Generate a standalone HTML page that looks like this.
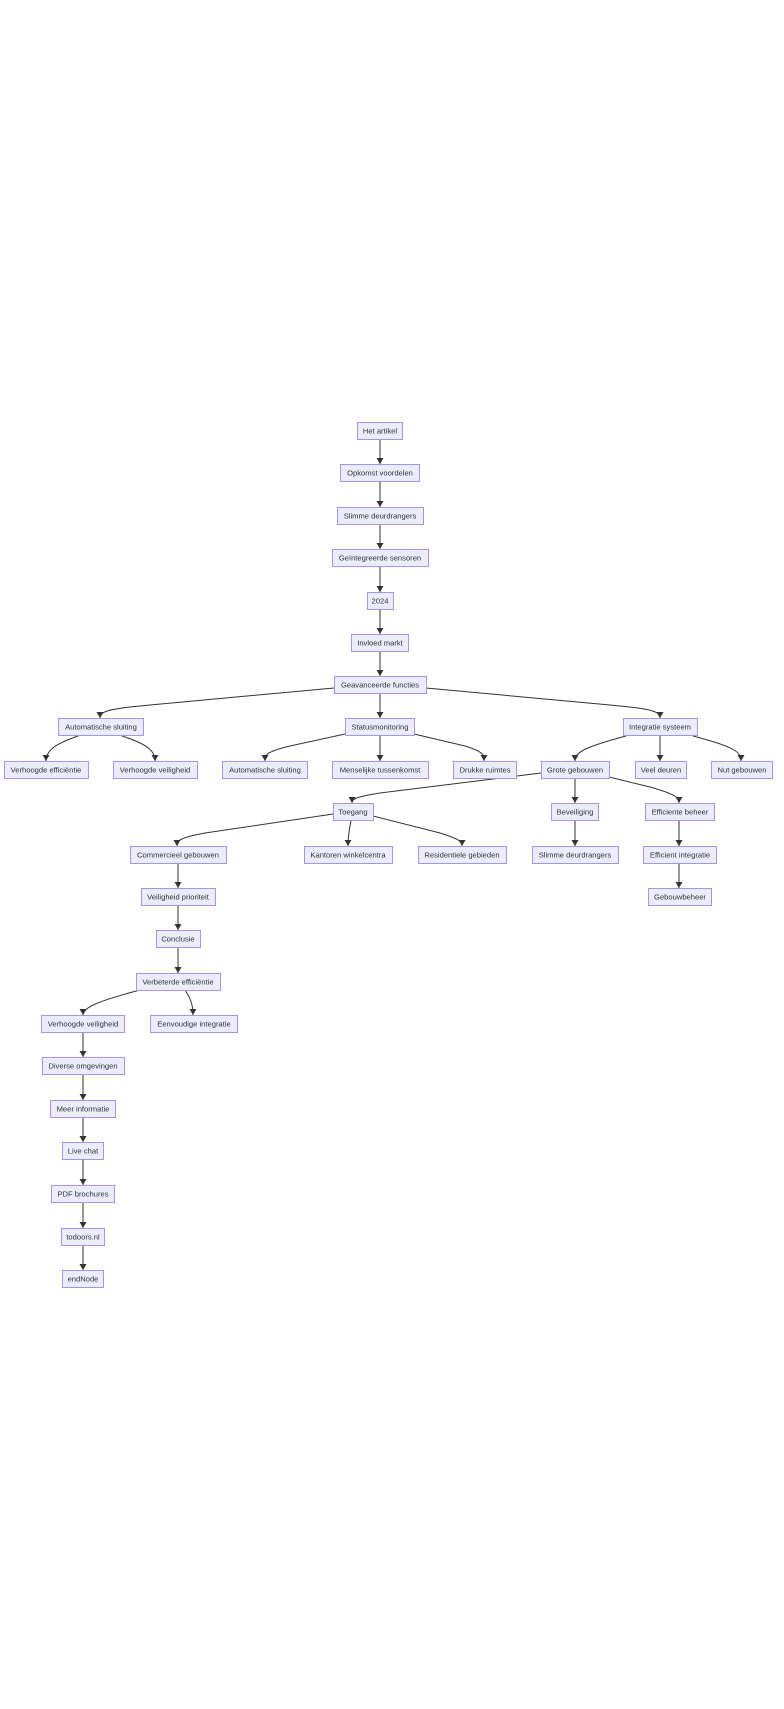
<!DOCTYPE html>
<html><head><meta charset="utf-8"><style>
html,body{margin:0;padding:0;background:#fff;}
svg{display:block;}
text{font-family:"Liberation Sans",Arial,sans-serif;font-size:7.6px;fill:#333;text-anchor:middle;dominant-baseline:central;}
rect{fill:#ECECFF;stroke:#A893E6;stroke-width:1;}
path.e{fill:none;stroke:#333;stroke-width:1;marker-end:url(#ah);}
</style></head><body>
<svg width="784" height="1709" viewBox="0 0 784 1709" xmlns="http://www.w3.org/2000/svg">
<defs><marker id="ah" markerUnits="userSpaceOnUse" markerWidth="7" markerHeight="7" refX="6" refY="3.5" orient="auto"><path d="M0,0 L6,3.5 L0,7 Z" fill="#333"/></marker></defs>
<g>
<path class="e" d="M380,439 L380,464"/>
<path class="e" d="M380,481 L380,507"/>
<path class="e" d="M380,523 L380,549"/>
<path class="e" d="M380,566 L380,592"/>
<path class="e" d="M380,608 L380,634"/>
<path class="e" d="M380,651 L380,676"/>
<path class="e" d="M334,688 L150,705 C105,709 100,712 100,718"/>
<path class="e" d="M380,693 L380,718"/>
<path class="e" d="M426,688 L610,705 C655,709 660,712 660,718"/>
<path class="e" d="M78,736 C52,745 46,752 46,761"/>
<path class="e" d="M122,736 C150,745 155,752 155,761"/>
<path class="e" d="M345,734 L290,746 C265,752 265,755 265,761"/>
<path class="e" d="M380,736 L380,761"/>
<path class="e" d="M414,734 L465,746 C484,752 484,755 484,761"/>
<path class="e" d="M626,736 C585,747 575,752 575,761"/>
<path class="e" d="M660,736 L660,761"/>
<path class="e" d="M693,736 C735,747 741,752 741,761"/>
<path class="e" d="M541,773 L380,793 C355,797 352,799 352,803"/>
<path class="e" d="M575,778 L575,803"/>
<path class="e" d="M609,777 L650,787 C678,795 679,798 679,803"/>
<path class="e" d="M333,814 L205,833 C178,838 177,841 177,846"/>
<path class="e" d="M351,821 C349,830 348,838 348,846"/>
<path class="e" d="M373,816 L440,833 C462,840 462,842 462,846"/>
<path class="e" d="M575,821 L575,846"/>
<path class="e" d="M679,821 L679,846"/>
<path class="e" d="M679,863 L679,888"/>
<path class="e" d="M178,863 L178,888"/>
<path class="e" d="M178,905 L178,930"/>
<path class="e" d="M178,947 L178,973"/>
<path class="e" d="M140,990 C95,1002 83,1008 83,1015"/>
<path class="e" d="M185,990 C192,1000 193,1008 193,1015"/>
<path class="e" d="M83,1032 L83,1057"/>
<path class="e" d="M83,1075 L83,1100"/>
<path class="e" d="M83,1117 L83,1142"/>
<path class="e" d="M83,1159 L83,1185"/>
<path class="e" d="M83,1202 L83,1228"/>
<path class="e" d="M83,1244 L83,1270"/>
</g>
<g>
<rect x="357.5" y="422.5" width="45" height="17"/><text x="380" y="431">Het artikel</text>
<rect x="340.5" y="464.5" width="79" height="17"/><text x="380" y="473">Opkomst voordelen</text>
<rect x="337.5" y="507.5" width="86" height="17"/><text x="380" y="516">Slimme deurdrangers</text>
<rect x="332.5" y="549.5" width="96" height="17"/><text x="380" y="558">Geïntegreerde sensoren</text>
<rect x="367.5" y="592.5" width="26" height="17"/><text x="380" y="601">2024</text>
<rect x="351.5" y="634.5" width="57" height="17"/><text x="380" y="643">Invloed markt</text>
<rect x="334.5" y="676.5" width="92" height="17"/><text x="380" y="685">Geavanceerde functies</text>
<rect x="58.5" y="718.5" width="85" height="17"/><text x="101" y="727">Automatische sluiting</text>
<rect x="345.5" y="718.5" width="69" height="17"/><text x="380" y="727">Statusmonitoring</text>
<rect x="623.5" y="718.5" width="74" height="17"/><text x="660" y="727">Integratie systeem</text>
<rect x="4.5" y="761.5" width="84" height="17"/><text x="46" y="770">Verhoogde efficiëntie</text>
<rect x="113.5" y="761.5" width="84" height="17"/><text x="155" y="770">Verhoogde veiligheid</text>
<rect x="222.5" y="761.5" width="85" height="17"/><text x="265" y="770">Automatische sluiting</text>
<rect x="332.5" y="761.5" width="96" height="17"/><text x="380" y="770">Menselijke tussenkomst</text>
<rect x="453.5" y="761.5" width="63" height="17"/><text x="485" y="770">Drukke ruimtes</text>
<rect x="541.5" y="761.5" width="68" height="17"/><text x="575" y="770">Grote gebouwen</text>
<rect x="635.5" y="761.5" width="51" height="17"/><text x="661" y="770">Veel deuren</text>
<rect x="711.5" y="761.5" width="61" height="17"/><text x="742" y="770">Nut gebouwen</text>
<rect x="333.5" y="803.5" width="40" height="17"/><text x="353" y="812">Toegang</text>
<rect x="551.5" y="803.5" width="47" height="17"/><text x="575" y="812">Beveiliging</text>
<rect x="645.5" y="803.5" width="69" height="17"/><text x="680" y="812">Efficiente beheer</text>
<rect x="130.5" y="846.5" width="96" height="17"/><text x="178" y="855">Commercieel gebouwen</text>
<rect x="304.5" y="846.5" width="88" height="17"/><text x="348" y="855">Kantoren winkelcentra</text>
<rect x="418.5" y="846.5" width="88" height="17"/><text x="462" y="855">Residentiele gebieden</text>
<rect x="532.5" y="846.5" width="86" height="17"/><text x="575" y="855">Slimme deurdrangers</text>
<rect x="643.5" y="846.5" width="73" height="17"/><text x="680" y="855">Efficient integratie</text>
<rect x="141.5" y="888.5" width="74" height="17"/><text x="178" y="897">Veiligheid prioriteit</text>
<rect x="648.5" y="888.5" width="63" height="17"/><text x="680" y="897">Gebouwbeheer</text>
<rect x="156.5" y="930.5" width="44" height="17"/><text x="178" y="939">Conclusie</text>
<rect x="136.5" y="973.5" width="84" height="17"/><text x="178" y="982">Verbeterde efficiëntie</text>
<rect x="41.5" y="1015.5" width="83" height="17"/><text x="83" y="1024">Verhoogde veiligheid</text>
<rect x="150.5" y="1015.5" width="87" height="17"/><text x="194" y="1024">Eenvoudige integratie</text>
<rect x="42.5" y="1057.5" width="82" height="17"/><text x="83" y="1066">Diverse omgevingen</text>
<rect x="50.5" y="1100.5" width="65" height="17"/><text x="83" y="1109">Meer informatie</text>
<rect x="62.5" y="1142.5" width="41" height="17"/><text x="83" y="1151">Live chat</text>
<rect x="51.5" y="1185.5" width="63" height="17"/><text x="83" y="1194">PDF brochures</text>
<rect x="61.5" y="1228.5" width="43" height="17"/><text x="83" y="1237">todoors.nl</text>
<rect x="62.5" y="1270.5" width="41" height="17"/><text x="83" y="1279">endNode</text>
</g>
</svg>
</body></html>
